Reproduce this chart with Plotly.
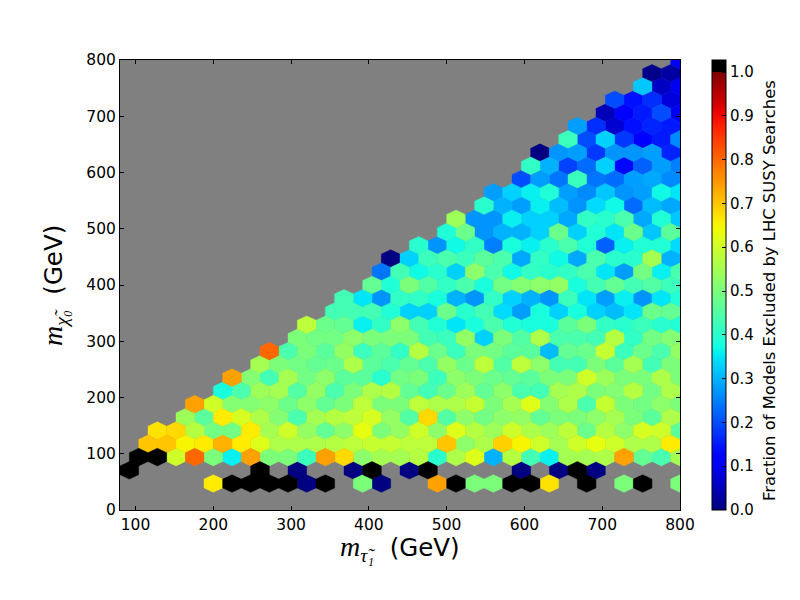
import plotly.graph_objects as go

N = None
# hexbin lattice: x = 80 + 24*j (even rows) or 92 + 24*j (odd rows), y = ROW_STEP * m
X0 = 80.0
SX = 24.0
ROW_STEP = 800.0 / 34
VMAX = 1.0274

# (first column j, fractions) per row m
row02 = [.66, 1, 1, 1, 1, 0, 1, N, .5, 0, N, N, .74, 1, .5, .5, 1, 1, .67, N, 1, N, .5, 1, N, .5]
row03 = [1, N, N, N, N, N, N, 1, N, 0, N, N, 0, 1, N, 0, 1, N, N, N, N, 0, N, 0, 1, 0]
row04 = [1, 1, .6, .8, .5, .36, .74, .5, .5, .42, .74, .68, .52, .55, .55, .57, .4, .56, .62, .3, .57, .43, .36, .55, .55, .56, .74, .47, .44, .55]
row05 = [.7, .7, .65, .66, .72, .66, .62, .56, .56, .56, .57, .58, .59, .59, .58, .58, .7, .52, .56, .69, .65, .6, .55, .6, .63, .6, .56, .56, .66]
row06 = [.67, .68, .57, .49, .49, .66, .55, .6, .53, .47, .52, .63, .5, .53, .6, .52, .62, .57, .54, .6, .56, .54, .58, .48, .57, .52, .61, .6, .46]
row07 = [.54, .46, .66, .61, .56, .51, .44, .55, .57, .58, .61, .53, .45, .68, .45, .52, .49, .52, .53, .47, .5, .5, .52, .55, .5, .46, .56]
row08 = [.74, .6, .51, .51, .52, .48, .52, .47, .5, .58, .5, .5, .58, .56, .56, .59, .5, .55, .62, .51, .56, .44, .59, .5, .49, .52, .5]
row09 = [.38, .44, .54, .55, .45, .53, .44, .5, .56, .57, .47, .43, .48, .54, .47, .52, .44, .43, .55, .56, .5, .51, .57, .49, .56]
row10 = [.74, .51, .43, .55, .49, .52, .46, .46, .4, .49, .5, .42, .52, .5, .48, .47, .46, .5, .5, .6, .54, .5, .5, .56, .5]
row11 = [.55, .5, .49, .47, .48, .56, .46, .44, .47, .44, .53, .48, .58, .45, .58, .52, .43, .43, .5, .46, .55, .43, .5]
row12 = [.8, .44, .5, .46, .53, .42, .46, .41, .57, .48, .42, .5, .49, .46, .46, .31, .47, .48, .59, .42, .48, .44, .53]
row13 = [.5, .49, .49, .52, .5, .5, .5, .43, .42, .53, .33, .5, .45, .56, .44, .44, .43, .57, .41, .49, .51]
row14 = [.58, .48, .47, .36, .41, .52, .43, .39, .35, .38, .44, .39, .38, .38, .46, .5, .41, .4, .42, .4, .39]
row15 = [.43, .43, .43, .39, .33, .33, .48, .4, .43, .34, .28, .38, .33, .38, .33, .31, .35, .48, .47]
row16 = [.43, .35, .27, .41, .41, .38, .3, .27, .41, .33, .3, .27, .42, .35, .28, .36, .27, .35, .39]
row17 = [.47, .39, .5, .45, .41, .44, .38, .49, .51, .52, .53, .38, .43, .47, .43, .45, .42]
row18 = [.24, .43, .37, .4, .33, .52, .44, .37, .41, .4, .41, .44, .35, .28, .49, .36, .44]
row19 = [0, .33, .42, .44, .42, .46, .44, .29, .41, .37, .29, .44, .4, .4, .55, .3]
row20 = [.4, .27, .37, .41, .25, .38, .36, .4, .44, .39, .22, .36, .39, .39, .34]
row21 = [.39, .48, .27, .3, .3, .33, .48, .33, .39, .35, .48, .32, .46]
row22 = [.54, .27, .27, .36, .33, .33, .29, .41, .4, .44, .29, .39, .32]
row23 = [.4, .3, .28, .36, .31, .27, .34, .37, .23, .31, .29]
row24 = [.28, .33, .36, .39, .28, .26, .32, .27, .28, .37, .35]
row25 = [.2, .28, .24, .42, .24, .23, .28, .29, .26]
row26 = [.41, .3, .19, .23, .33, .13, .22, .28, .25]
row27 = [0, .27, .28, .18, .27, .27, .28, .16]
row28 = [.42, .2, .33, .18, .11, .15, .26]
row29 = [.28, .17, .07, .14, .16, .15]
row30 = [.05, .12, .15, .2, .1]
row31 = [.2, .14, .17, .08]
row32 = [.32, .06, .1]
row33 = [.01, .03]
row34 = [.1]

rows = [row02, row03, row04, row05, row06, row07, row08, row09, row10, row11, row12,
        row13, row14, row15, row16, row17, row18, row19, row20, row21, row22, row23,
        row24, row25, row26, row27, row28, row29, row30, row31, row32, row33, row34]
first_col = [5, 0, 1, 1, 2, 3, 4, 5, 6, 7, 8, 9, 10, 11, 12, 13, 14, 14, 16, 17, 18, 19,
             20, 21, 22, 22, 24, 24, 26, 26, 28, 28, 30]


def interp(v, pts):
    for (a, ya), (b, yb) in zip(pts, pts[1:]):
        if a <= v <= b:
            return ya + (yb - ya) * (v - a) / (b - a)
    return pts[-1][1]


def jet(v):
    r = interp(v, [(0, 0), (.35, 0), (.66, 1), (.89, 1), (1, .5)])
    g = interp(v, [(0, 0), (.125, 0), (.375, 1), (.64, 1), (.91, 0), (1, 0)])
    b = interp(v, [(0, .5), (.11, 1), (.34, 1), (.65, 0), (1, 0)])
    return "rgb(%d,%d,%d)" % (round(r * 255), round(g * 255), round(b * 255))


def colour(v):
    return "rgb(0,0,0)" if v >= 1 else jet(v)


groups = {}
for m, (row, start) in enumerate(zip(rows, first_col), start=2):
    xc0 = X0 + (0 if m % 2 == 0 else SX / 2)
    yc = ROW_STEP * m
    for i, v in enumerate(row):
        if v is None:
            continue
        xc = xc0 + SX * (start + i)
        h = ROW_STEP * 2 / 3
        xs = [xc + SX / 2, xc + SX / 2, xc, xc - SX / 2, xc - SX / 2, xc, xc + SX / 2, None]
        ys = [yc - h / 2, yc + h / 2, yc + h, yc + h / 2, yc - h / 2, yc - h, yc - h / 2, None]
        gx, gy = groups.setdefault(v, ([], []))
        gx.extend(xs)
        gy.extend(ys)

fig = go.Figure()
for v, (gx, gy) in sorted(groups.items()):
    c = colour(v)
    fig.add_trace(go.Scatter(x=gx, y=gy, mode="lines", fill="toself", fillcolor=c,
                             line=dict(color=c, width=0.4), hoverinfo="skip", showlegend=False))

stops = [i / 40 for i in range(41)]
scale = [[s / VMAX, jet(s)] for s in stops]
scale += [[1 / VMAX, "rgb(0,0,0)"], [1, "rgb(0,0,0)"]]
fig.add_trace(go.Scatter(
    x=[None], y=[None], mode="markers", showlegend=False, hoverinfo="skip",
    marker=dict(color=[0], cmin=0, cmax=VMAX, colorscale=scale, showscale=True,
                colorbar=dict(
                    x=1.057, xanchor="left", y=0, yanchor="bottom", len=1, lenmode="fraction",
                    thickness=14, thicknessmode="pixels", outlinecolor="black", outlinewidth=1,
                    tick0=0, dtick=0.1, tickformat=".1f", ticks="inside", ticklen=4,
                    tickcolor="black", tickwidth=1, ypad=0, xpad=0,
                    tickfont=dict(size=15, color="black")))))

axis = dict(showgrid=False, zeroline=False, showline=True, linecolor="black", linewidth=1,
            mirror="ticks", ticks="inside", ticklen=4, tickcolor="black", tickwidth=1,
            tickfont=dict(size=15.5, color="black"))
MATH = "font-family:'Liberation Serif';font-style:italic;font-size:28px"
fig.update_layout(
    width=784, height=584, margin=dict(l=112, r=112, t=52, b=82, autoexpand=False),
    paper_bgcolor="white", plot_bgcolor="#808080",
    font=dict(family="DejaVu Sans", color="black"),
    xaxis=dict(axis, range=[80, 800], tick0=0, dtick=100),
    yaxis=dict(axis, range=[0, 800], tick0=0, dtick=100),
    annotations=[
        dict(text="<span style=\"%s\">m<sub>τ̃₁</sub></span>  (GeV)" % MATH,
             x=0.5, y=-0.085, xref="paper", yref="paper", xanchor="center", yanchor="middle",
             showarrow=False, font=dict(size=24.5, color="black")),
        dict(text="<span style=\"%s\">m<sub>χ̃₀</sub></span>  (GeV)" % MATH, textangle=-90,
             x=-0.118, y=0.5, xref="paper", yref="paper", xanchor="center", yanchor="middle",
             showarrow=False, font=dict(size=24.5, color="black")),
        dict(text="Fraction of Models Excluded by LHC SUSY Searches", textangle=-90,
             x=1.16, y=0.488, xref="paper", yref="paper", xanchor="center", yanchor="middle",
             showarrow=False, font=dict(size=16.4, color="black")),
    ],
)
fig.write_html("out.html")
